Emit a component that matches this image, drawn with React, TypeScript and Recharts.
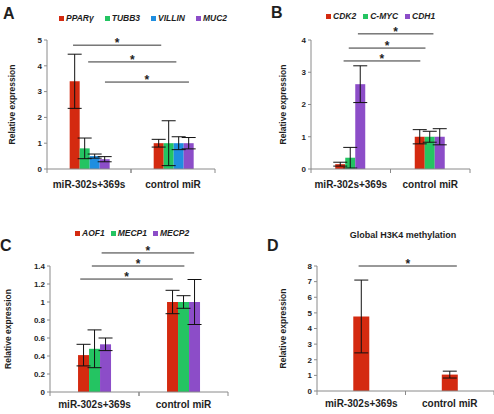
import React from 'react';
import { BarChart, Bar, XAxis, YAxis, ErrorBar, ReferenceLine } from 'recharts';

const groups = ['miR-302s+369s', 'control miR'];

// A: differentiation markers
const pparMean = [3.4, 1.0];
const pparErr = [1.05, 0.15];
const tubb3Mean = [0.8, 1.0];
const tubb3Err = [0.4, 0.87];
const villinMean = [0.5, 1.0];
const villinErr = [0.08, 0.25];
const muc2Mean = [0.38, 1.0];
const muc2Err = [0.1, 0.22];

// B: cell cycle / adhesion
const cdk2Mean = [0.15, 1.0];
const cdk2Err = [0.06, 0.22];
const cmycMean = [0.35, 1.0];
const cmycErr = [0.32, 0.17];
const cdh1Mean = [2.63, 1.0];
const cdh1Err = [0.57, 0.25];

// C: epigenetic regulators
const aof1Mean = [0.41, 1.0];
const aof1Err = [0.12, 0.13];
const mecp1Mean = [0.48, 1.0];
const mecp1Err = [0.21, 0.07];
const mecp2Mean = [0.53, 1.0];
const mecp2Err = [0.07, 0.25];

// D: global H3K4 methylation
const h3k4Mean = [4.77, 1.05];
const h3k4Err = [2.33, 0.22];

const ticksA = [0, 1, 2, 3, 4, 5];
const ticksB = [0, 1, 2, 3, 4];
const ticksC = [0, 0.2, 0.4, 0.6, 0.8, 1, 1.2, 1.4];
const ticksD = [0, 1, 2, 3, 4, 5, 6, 7, 8];

// significance brackets: [from, to, height]; x counted in category bands (0..2)
const sigA = [[0.31, 1.36, 4.8], [0.49, 1.54, 4.15], [0.69, 1.69, 3.37]];
const sigB = [[0.59, 1.54, 4.19], [0.475, 1.44, 3.75], [0.41, 1.375, 3.35]];
const sigC = [[0.58, 1.62, 1.545], [0.47, 1.51, 1.4], [0.34, 1.38, 1.255]];
const sigD = [[0.47, 1.58, 8.0]];

const RED = '#d42a10';
const GREEN = '#24c462';
const BLUE = '#1f8ee0';
const PURPLE = '#8c4dc8';
const AXIS = '#8a8a8a';
const INK = '#1e1e1e';

type Series = { key: string; name: string; color: string; mean: number[]; err: number[] };

const seriesA: Series[] = [
  { key: 'ppar', name: 'PPARγ', color: RED, mean: pparMean, err: pparErr },
  { key: 'tubb3', name: 'TUBB3', color: GREEN, mean: tubb3Mean, err: tubb3Err },
  { key: 'villin', name: 'VILLIN', color: BLUE, mean: villinMean, err: villinErr },
  { key: 'muc2', name: 'MUC2', color: PURPLE, mean: muc2Mean, err: muc2Err },
];
const seriesB: Series[] = [
  { key: 'cdk2', name: 'CDK2', color: RED, mean: cdk2Mean, err: cdk2Err },
  { key: 'cmyc', name: 'C-MYC', color: GREEN, mean: cmycMean, err: cmycErr },
  { key: 'cdh1', name: 'CDH1', color: PURPLE, mean: cdh1Mean, err: cdh1Err },
];
const seriesC: Series[] = [
  { key: 'aof1', name: 'AOF1', color: RED, mean: aof1Mean, err: aof1Err },
  { key: 'mecp1', name: 'MECP1', color: GREEN, mean: mecp1Mean, err: mecp1Err },
  { key: 'mecp2', name: 'MECP2', color: PURPLE, mean: mecp2Mean, err: mecp2Err },
];
const seriesD: Series[] = [
  { key: 'h3k4', name: 'Global H3K4 methylation', color: RED, mean: h3k4Mean, err: h3k4Err },
];

const buildRows = (series: Series[]) =>
  groups.map((g, i) => {
    const row: Record<string, string | number> = { group: g };
    series.forEach((s) => {
      row[s.key] = s.mean[i];
      row[s.key + 'Err'] = s.err[i];
    });
    return row;
  });

// category label plus Excel-style tick marks between the groups
const CategoryTick = (props: any) => {
  const { x, y, payload, labelDy, width, visibleTicksCount } = props;
  const half = payload.offset ?? width / (2 * (visibleTicksCount || 2));
  return (
    <g>
      <line x1={x - half} x2={x - half} y1={y} y2={y + 4} stroke={AXIS} />
      <line x1={x + half} x2={x + half} y1={y} y2={y + 4} stroke={AXIS} />
      <text x={x} y={y + labelDy} textAnchor="middle" fontSize={10} fontWeight="bold" fill={INK}>
        {payload.value}
      </text>
    </g>
  );
};

interface PanelProps {
  series: Series[];
  ticks: number[];
  sig: number[][];
  left: number;
  top: number;
  width: number;
  height: number;
  marginTop: number;
  marginRight: number;
  yAxisWidth: number;
  xAxisHeight: number;
  labelDy: number;
  yLabelDx: number;
  gap: string;
}

const Panel: React.FC<PanelProps> = (p) => {
  const rows = buildRows(p.series);
  const n = groups.length;
  return (
    <div style={{ position: 'absolute', left: p.left, top: p.top }}>
      <BarChart
        width={p.width}
        height={p.height}
        data={rows}
        margin={{ top: p.marginTop, right: p.marginRight, left: 0, bottom: 0 }}
        barCategoryGap={p.gap}
        barGap={0}
      >
        <XAxis
          xAxisId="cat"
          dataKey="group"
          height={p.xAxisHeight}
          axisLine={{ stroke: AXIS }}
          tickLine={false}
          tickSize={0}
          tickMargin={0}
          interval={0}
          tick={<CategoryTick labelDy={p.labelDy} />}
        />
        {/* linear 0..1 across the plot width, used to place the brackets */}
        <XAxis xAxisId="frac" type="number" domain={[0, 1]} allowDataOverflow hide />
        <YAxis
          width={p.yAxisWidth}
          domain={[p.ticks[0], p.ticks[p.ticks.length - 1]]}
          ticks={p.ticks}
          interval={0}
          axisLine={{ stroke: AXIS }}
          tickLine={{ stroke: AXIS }}
          tickSize={3}
          tickMargin={2}
          tick={{ fontSize: 8, fontWeight: 'bold', fill: INK }}
          label={{
            value: 'Relative expression',
            angle: -90,
            position: 'insideLeft',
            dx: p.yLabelDx,
            style: { textAnchor: 'middle', fontSize: 8.5, fontWeight: 'bold', fill: INK },
          }}
        />
        {p.series.map((s) => (
          <Bar key={s.key} xAxisId="cat" dataKey={s.key} name={s.name} fill={s.color} isAnimationActive={false}>
            <ErrorBar dataKey={s.key + 'Err'} width={7} stroke="#111" strokeWidth={1} direction="y" isAnimationActive={false} />
          </Bar>
        ))}
        {p.sig.map(([from, to, h], i) => (
          <ReferenceLine
            key={i}
            xAxisId="frac"
            segment={[{ x: from / n, y: h }, { x: to / n, y: h }]}
            stroke="#333"
            strokeWidth={1}
            ifOverflow="visible"
            label={{ value: '*', position: 'top', offset: -2, fill: INK, fontSize: 12, fontWeight: 'bold' }}
          />
        ))}
      </BarChart>
    </div>
  );
};

const LegendRow: React.FC<{ series: Series[]; left: number; top: number; gap: number }> = ({ series, left, top, gap }) => (
  <div
    style={{
      position: 'absolute',
      left,
      top,
      display: 'flex',
      alignItems: 'center',
      gap,
      fontSize: 8.5,
      lineHeight: '10px',
      fontWeight: 'bold',
      fontStyle: 'italic',
      color: INK,
      whiteSpace: 'nowrap',
    }}
  >
    {series.map((s) => (
      <span key={s.key} style={{ display: 'flex', alignItems: 'center' }}>
        <span style={{ width: 5, height: 5, background: s.color, marginRight: 2 }} />
        {s.name}
      </span>
    ))}
  </div>
);

const letter = (text: string, left: number, top: number) => (
  <div style={{ position: 'absolute', left, top, fontSize: 16, lineHeight: '16px', fontWeight: 'bold', color: INK }}>
    {text}
  </div>
);

export default function App() {
  return (
    <div
      style={{
        position: 'absolute',
        left: 0,
        top: 0,
        width: 494,
        height: 414,
        overflow: 'hidden',
        background: '#fff',
        fontFamily: "'Liberation Sans', Arial, sans-serif",
      }}
    >
      {letter('A', 3, 6)}
      {letter('B', 271, 5)}
      {letter('C', 0, 238)}
      {letter('D', 267, 238)}

      <LegendRow series={seriesA} left={59} top={13} gap={11} />
      <LegendRow series={seriesB} left={326} top={11} gap={7} />
      <LegendRow series={seriesC} left={75} top={228} gap={6} />

      <div
        style={{
          position: 'absolute',
          left: 340,
          top: 230,
          width: 126,
          textAlign: 'center',
          fontSize: 9,
          lineHeight: '10px',
          fontWeight: 'bold',
          color: INK,
        }}
      >
        {seriesD[0].name}
      </div>

      <Panel series={seriesA} ticks={ticksA} sig={sigA} left={0} top={0} width={230} height={200}
        marginTop={40} marginRight={15} yAxisWidth={47} xAxisHeight={31} labelDy={19} yLabelDx={7} gap="27%" />
      <Panel series={seriesB} ticks={ticksB} sig={sigB} left={250} top={0} width={244} height={200}
        marginTop={40} marginRight={24} yAxisWidth={61} xAxisHeight={31} labelDy={19} yLabelDx={28} gap="30.5%" />
      <Panel series={seriesC} ticks={ticksC} sig={sigC} left={0} top={200} width={240} height={214}
        marginTop={66} marginRight={12} yAxisWidth={50} xAxisHeight={22} labelDy={16} yLabelDx={3} gap="31.5%" />
      <Panel series={seriesD} ticks={ticksD} sig={sigD} left={250} top={200} width={244} height={214}
        marginTop={66} marginRight={0} yAxisWidth={67} xAxisHeight={23} labelDy={16} yLabelDx={28} gap="41%" />
    </div>
  );
}
